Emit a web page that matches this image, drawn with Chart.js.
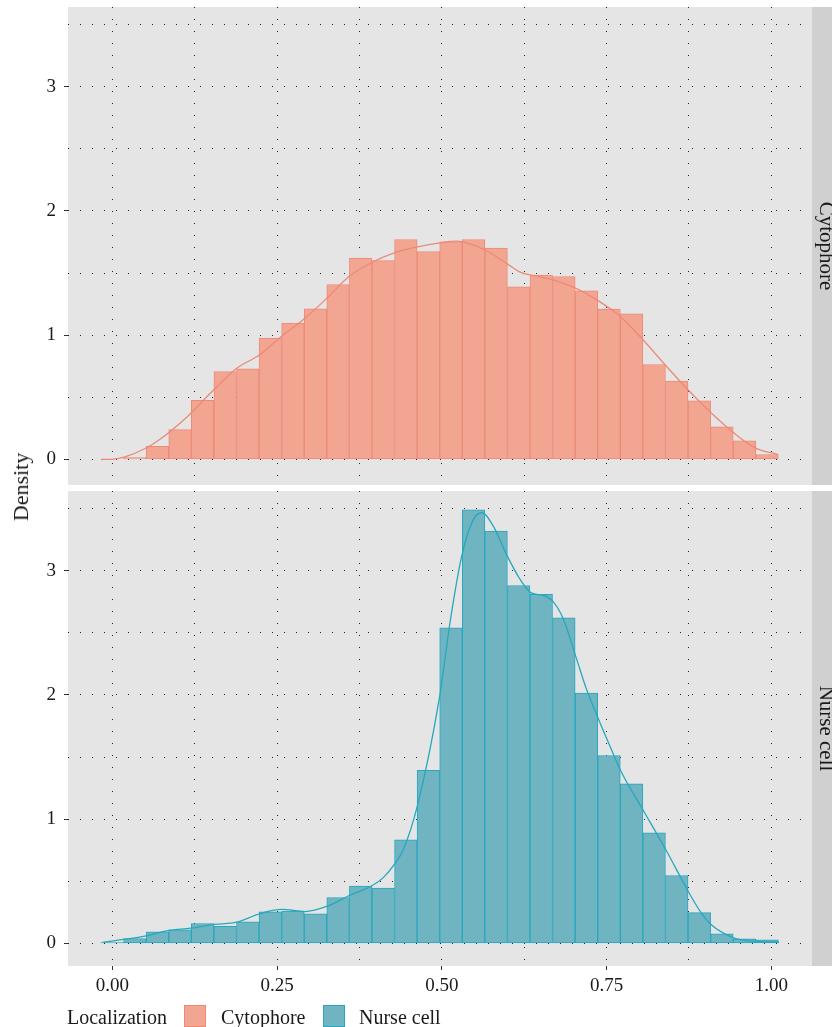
<!DOCTYPE html>
<html>
<head>
<meta charset="utf-8">
<script src="https://cdn.jsdelivr.net/npm/chart.js@4.4.1/dist/chart.umd.min.js"></script>
<style>
  body { margin: 0; background: #fff; font-family: "Liberation Serif", serif; color: #1a1a1a; }
  #wrap { position: relative; width: 832px; height: 1027px; overflow: hidden; }
  canvas { position: absolute; left: 0; }
  #c1 { top: 0; }
  #c2 { top: 488px; }
  #ytitle { position: absolute; left: 21px; top: 487px; font-size: 22px; white-space: nowrap;
            transform: translate(-50%, -50%) rotate(-90deg); line-height: 22px; }
  .lg { position: absolute; top: 1007px; font-size: 20px; line-height: 20px; white-space: nowrap; }
  .key { position: absolute; top: 1005px; width: 20px; height: 20px; border: 1px solid; }
</style>
</head>
<body>
<div id="wrap">
  <canvas id="c1" width="832" height="488"></canvas>
  <canvas id="c2" width="832" height="539"></canvas>
  <div id="ytitle">Density</div>
  <div class="lg" style="left:67px">Localization</div>
  <div class="key" id="k1" style="left:184px"></div>
  <div class="lg" style="left:221px">Cytophore</div>
  <div class="key" id="k2" style="left:323px"></div>
  <div class="lg" style="left:359px">Nurse cell</div>
</div>
<script>
'use strict';

// histogram bin centres (30 bins)
var binCenters = [0.0000, 0.0343, 0.0685, 0.1028, 0.1370, 0.1713, 0.2056, 0.2398, 0.2741, 0.3083,
                  0.3426, 0.3769, 0.4111, 0.4454, 0.4796, 0.5139, 0.5482, 0.5824, 0.6167, 0.6509,
                  0.6852, 0.7195, 0.7537, 0.7880, 0.8222, 0.8565, 0.8908, 0.9250, 0.9593, 0.9935];

var cytoBars = [0, 0.016, 0.107, 0.241, 0.477, 0.708, 0.73, 0.976, 1.097, 1.212,
                1.408, 1.62, 1.60, 1.77, 1.673, 1.751, 1.77, 1.70, 1.39, 1.483,
                1.472, 1.357, 1.21, 1.172, 0.764, 0.63, 0.472, 0.263, 0.15, 0.04];

var nurseBars = [0.01, 0.04, 0.094, 0.11, 0.161, 0.139, 0.174, 0.255, 0.26, 0.239,
                 0.37, 0.461, 0.445, 0.834, 1.394, 2.54, 3.489, 3.317, 2.88, 2.808,
                 2.62, 2.014, 1.512, 1.285, 0.89, 0.547, 0.249, 0.078, 0.038, 0.03];

// density curves
var cytoCurveX = [-0.0171, 0.001, 0.0182, 0.0522, 0.0674, 0.0865, 0.1129, 0.1548, 0.1888, 0.2231,
                  0.256, 0.2909, 0.3243, 0.3587, 0.3936, 0.4279, 0.4634, 0.4973, 0.5226, 0.5322,
                  0.5656, 0.6005, 0.6187, 0.6338, 0.6672, 0.7021, 0.7381, 0.7704, 0.8049, 0.8397,
                  0.8731, 0.9085, 0.9429, 0.9753, 1.0102];
var cytoCurveY = [0, 0.003, 0.02, 0.095, 0.145, 0.22, 0.34, 0.565, 0.734, 0.84,
                  0.988, 1.13, 1.29, 1.47, 1.585, 1.663, 1.711, 1.743, 1.756, 1.75,
                  1.685, 1.57, 1.507, 1.485, 1.448, 1.38, 1.274, 1.153, 0.965, 0.756,
                  0.563, 0.376, 0.215, 0.094, 0.04];

var nurseCurveX = [-0.0137, 0.0537, 0.0856, 0.119, 0.1548, 0.1888, 0.2231, 0.2575, 0.2924, 0.3263,
                   0.3596, 0.3945, 0.4112, 0.4285, 0.4416, 0.4628, 0.4968, 0.5124, 0.5302, 0.5478,
                   0.5615, 0.5781, 0.5994, 0.6187, 0.6358, 0.654, 0.6683, 0.6844, 0.7032, 0.7199,
                   0.7381, 0.7552, 0.773, 0.8049, 0.8397, 0.8751, 0.8918, 0.9085, 0.9429, 0.9722, 1.0117];
var nurseCurveY = [0.01, 0.064, 0.105, 0.123, 0.153, 0.171, 0.239, 0.274, 0.257, 0.30,
                   0.386, 0.467, 0.53, 0.64, 0.756, 1.105, 1.99, 2.58, 3.116, 3.41,
                   3.465, 3.357, 3.116, 2.93, 2.82, 2.80, 2.754, 2.61, 2.31, 2.04,
                   1.80, 1.587, 1.373, 1.078, 0.756, 0.408, 0.26, 0.153, 0.046, 0.019, 0.01];

var xTicks = [0, 0.25, 0.5, 0.75, 1];
var xLabels = ['0.00', '0.25', '0.50', '0.75', '1.00'];
var xGrid = [0, 0.125, 0.25, 0.375, 0.5, 0.625, 0.75, 0.875, 1];
var yTicks = [0, 1, 2, 3];
var yGrid = [0, 0.5, 1, 1.5, 2, 2.5, 3, 3.5];
var groups = ['Cytophore', 'Nurse cell'];

var FONT = '"Liberation Serif", serif';
var cytoFill = '#F2A692', cytoEdge = '#EE8978';
var nurseFill = '#70B3C1', nurseEdge = '#25A8BE';

document.getElementById('k1').style.background = cytoFill;
document.getElementById('k1').style.borderColor = cytoEdge;
document.getElementById('k2').style.background = nurseFill;
document.getElementById('k2').style.borderColor = nurseEdge;

var panelPlugin = {
    id: 'panel',
    beforeDraw: function(chart, args, opts) {
        var ctx = chart.ctx, a = chart.chartArea;
        ctx.save();
        ctx.fillStyle = '#E5E5E5';
        ctx.fillRect(a.left, a.top, a.right - a.left, a.bottom - a.top);
        ctx.fillStyle = '#D0D0D0';
        ctx.fillRect(a.right, a.top, chart.width - a.right, a.bottom - a.top);
        ctx.translate(a.right + 8, (a.top + a.bottom) / 2);
        ctx.rotate(Math.PI / 2);
        ctx.fillStyle = '#1a1a1a';
        ctx.font = '21px ' + FONT;
        ctx.textAlign = 'center';
        ctx.textBaseline = 'alphabetic';
        ctx.fillText(opts.label, 0, 0);
        ctx.restore();
    }
};

function makePanel(id, label, bars, cx, cy, fill, edge, yMin, yMax, padTop, padBottom, showX) {
    var ctx = document.getElementById(id).getContext('2d');
    return new Chart(ctx, {
        type: 'bar',
        data: {
            datasets: [{
                type: 'line',
                data: cx.map(function(x, i) { return { x: x, y: cy[i] }; }),
                borderColor: edge,
                borderWidth: 1.3,
                pointRadius: 0,
                fill: false,
                cubicInterpolationMode: 'monotone',
                order: 0
            }, {
                type: 'bar',
                data: binCenters.map(function(x, i) { return { x: x, y: bars[i] }; }),
                backgroundColor: fill,
                borderColor: edge,
                borderWidth: 1,
                borderSkipped: false,
                barPercentage: 1,
                categoryPercentage: 1,
                order: 1
            }]
        },
        options: {
            responsive: false,
            animation: false,
            devicePixelRatio: 1,
            layout: { padding: { top: padTop, right: 20, bottom: padBottom, left: 0 } },
            plugins: {
                legend: { display: false },
                tooltip: { enabled: false },
                panel: { label: label }
            },
            scales: {
                x: {
                    type: 'linear',
                    min: -0.0672,
                    max: 1.0617,
                    offset: false,
                    afterBuildTicks: function(s) { s.ticks = xGrid.map(function(v) { return { value: v }; }); },
                    afterFit: function(s) {
                        s.height = showX ? 61 : 0;
                        s.paddingLeft = 0; s.paddingRight = 0;
                    },
                    grid: {
                        color: '#222',
                        lineWidth: 1,
                        offset: false,
                        drawTicks: showX,
                        tickLength: 4,
                        tickWidth: 1,
                        tickColor: function(c) { return (c.tick && xTicks.indexOf(c.tick.value) >= 0) ? '#333' : 'rgba(0,0,0,0)'; }
                    },
                    border: { display: false, dash: [1, 11] },
                    ticks: {
                        display: showX,
                        padding: 5,
                        autoSkip: false,
                        maxRotation: 0,
                        color: '#1a1a1a',
                        font: { family: FONT, size: 19 },
                        callback: function(v) { var i = xTicks.indexOf(v); return i < 0 ? '' : xLabels[i]; }
                    }
                },
                y: {
                    min: yMin,
                    max: yMax,
                    afterBuildTicks: function(s) { s.ticks = yGrid.map(function(v) { return { value: v }; }); },
                    afterFit: function(s) {
                        s.width = 68;
                        s.paddingTop = 0; s.paddingBottom = 0;
                    },
                    grid: {
                        color: '#222',
                        lineWidth: 1,
                        drawTicks: true,
                        tickLength: 4,
                        tickWidth: 1,
                        tickColor: function(c) { return (c.tick && yTicks.indexOf(c.tick.value) >= 0) ? '#333' : 'rgba(0,0,0,0)'; }
                    },
                    border: { display: false, dash: [1, 11] },
                    ticks: {
                        padding: 8,
                        autoSkip: false,
                        color: '#1a1a1a',
                        font: { family: FONT, size: 19 },
                        callback: function(v) { return yTicks.indexOf(v) < 0 ? '' : String(v); }
                    }
                }
            }
        },
        plugins: [panelPlugin]
    });
}

makePanel('c1', groups[0], cytoBars, cytoCurveX, cytoCurveY, cytoFill, cytoEdge, -0.205, 3.64, 7, 3, false);
makePanel('c2', groups[1], nurseBars, nurseCurveX, nurseCurveY, nurseFill, nurseEdge, -0.181, 3.64, 3, 0, true);
</script>
</body>
</html>
